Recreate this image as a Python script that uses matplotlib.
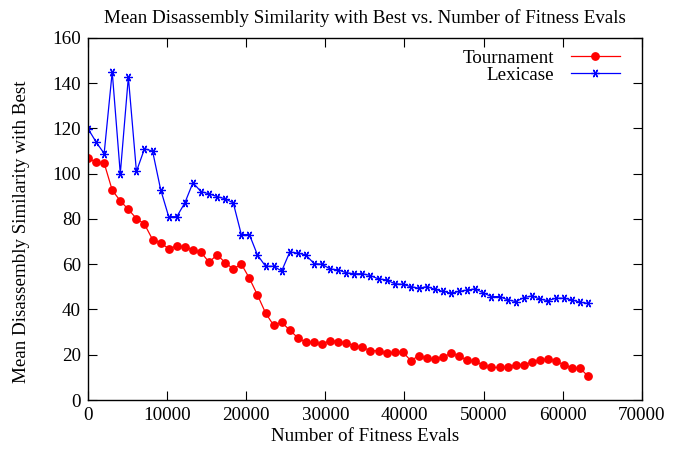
import matplotlib
matplotlib.use("Agg")
import matplotlib.pyplot as plt

plt.rcParams['font.family'] = ['Liberation Serif', 'DejaVu Serif']

# fitness evaluations (one sample per generation)
step = 1020
n_points = 63
evals = [i * step for i in range(n_points)]

tournament = [106.9, 105.1, 104.7, 92.7, 88.0, 84.2, 80.2, 77.7, 70.9, 69.4,
              66.9, 68.0, 67.8, 66.2, 65.3, 60.9, 64.2, 60.7, 57.9, 60.1,
              53.8, 46.4, 38.5, 33.0, 34.3, 30.9, 27.5, 25.5, 25.5, 24.7,
              26.3, 25.8, 25.2, 24.0, 23.3, 21.8, 21.8, 20.6, 21.1, 21.3,
              17.4, 19.6, 18.4, 18.1, 19.1, 20.6, 19.5, 17.5, 17.1, 15.4,
              14.4, 14.4, 14.4, 15.7, 15.7, 16.6, 17.8, 18.1, 17.3, 15.4,
              14.2, 14.0, 10.4]

lexicase = [119.9, 114.0, 108.9, 145.0, 100.0, 142.7, 101.0, 111.0, 110.0, 93.0,
            81.0, 81.0, 87.1, 96.0, 92.1, 91.1, 89.9, 88.9, 87.1, 73.1,
            73.1, 64.1, 59.1, 59.1, 57.0, 65.4, 64.9, 64.1, 60.3, 60.0,
            57.9, 57.5, 56.2, 55.8, 55.8, 55.0, 53.5, 53.1, 51.4, 51.1,
            50.1, 49.4, 50.1, 48.9, 48.0, 47.2, 48.0, 48.6, 49.1, 47.3,
            45.7, 45.7, 44.3, 43.5, 45.2, 46.0, 44.6, 43.9, 45.0, 45.0,
            44.2, 43.2, 42.7]

fs = 13.7

fig = plt.figure(figsize=(6.77, 4.51), dpi=100)
ax = fig.add_axes([0.130, 0.113, 0.818, 0.803])

ax.plot(evals, tournament, color='red', lw=0.9, marker='o', markersize=5.3,
        label='Tournament')
ax.plot(evals, lexicase, color='blue', lw=0.9, marker=(6, 2, 90), markersize=6,
        markeredgewidth=0.9, label='Lexicase')

ax.set_xlim(0, 70000)
ax.set_ylim(0, 160)
ax.set_xticks(range(0, 70001, 10000))
ax.set_yticks(range(0, 161, 20))
ax.tick_params(direction='in', length=6.5, width=0.8, top=True, right=True,
               labelsize=fs, pad=5)
for s in ax.spines.values():
    s.set_linewidth(1.0)

ax.set_title('Mean Disassembly Similarity with Best vs. Number of Fitness Evals',
             fontsize=fs, pad=11)
ax.set_xlabel('Number of Fitness Evals', fontsize=fs, labelpad=3)
ax.set_ylabel('Mean Disassembly Similarity with Best', fontsize=fs)
ax.yaxis.set_label_coords(-0.105, 0.464)

ax.legend(loc='upper right', bbox_to_anchor=(0.960, 0.968), frameon=False,
          markerfirst=False, fontsize=fs, handlelength=2.55, handletextpad=0.9,
          labelspacing=-0.02, borderpad=0, borderaxespad=0, numpoints=1)

fig.savefig('out.png', dpi=100)
